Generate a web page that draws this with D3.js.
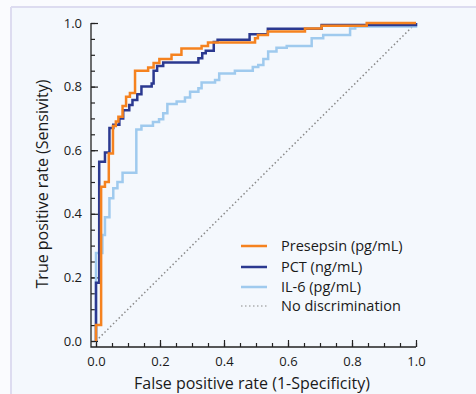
<!DOCTYPE html>
<html>
<head>
<meta charset="utf-8">
<script src="https://cdn.jsdelivr.net/npm/d3@7"></script>
<style>
  html, body { margin: 0; padding: 0; background: #fafbfe; }
  svg { display: block; }
  text { font-family: "Open Sans", "Noto Sans", sans-serif; fill: #1a1a1a; }
</style>
</head>
<body>
<svg id="chart" width="476" height="394"></svg>
<script>
// ROC operating points [false positive rate, true positive rate]; each point is
// the top of a vertical step, joined with a step-after curve.
const presepsin = [
  [0, 0], [0, 0.05], [0.016, 0.485], [0.028, 0.50], [0.04, 0.59], [0.053, 0.676],
  [0.062, 0.69], [0.07, 0.705], [0.083, 0.739], [0.094, 0.768], [0.106, 0.78],
  [0.122, 0.85], [0.163, 0.86], [0.18, 0.874], [0.198, 0.887], [0.236, 0.90],
  [0.267, 0.92], [0.33, 0.928], [0.35, 0.939], [0.497, 0.952], [0.506, 0.962],
  [0.537, 0.973], [0.653, 0.983], [0.705, 0.991], [0.846, 1.0], [1.0, 1.0]
];
const pct = [
  [0, 0], [0, 0.183], [0.01, 0.564], [0.028, 0.593], [0.042, 0.67], [0.054, 0.68],
  [0.073, 0.70], [0.085, 0.726], [0.104, 0.742], [0.114, 0.758], [0.129, 0.776],
  [0.142, 0.80], [0.174, 0.81], [0.18, 0.85], [0.191, 0.865], [0.21, 0.876],
  [0.32, 0.889], [0.332, 0.905], [0.343, 0.913], [0.368, 0.94], [0.38, 0.947],
  [0.48, 0.965], [0.537, 0.982], [0.705, 0.994], [1.0, 1.0]
];
const il6 = [
  [0, 0], [0, 0.277], [0.02, 0.333], [0.028, 0.389], [0.042, 0.449], [0.054, 0.48],
  [0.067, 0.50], [0.083, 0.529], [0.126, 0.665], [0.142, 0.677], [0.178, 0.689],
  [0.197, 0.697], [0.21, 0.716], [0.223, 0.745], [0.252, 0.753], [0.278, 0.766],
  [0.294, 0.784], [0.32, 0.795], [0.33, 0.813], [0.372, 0.821], [0.385, 0.841],
  [0.434, 0.85], [0.49, 0.862], [0.507, 0.868], [0.523, 0.887], [0.538, 0.91],
  [0.564, 0.922], [0.596, 0.928], [0.674, 0.952], [0.71, 0.962], [0.794, 0.983],
  [0.81, 0.989], [1.0, 1.0]
];
const chance = [[0, 0], [1, 1]];

const seriesNames = ["Presepsin (pg/mL)", "PCT (ng/mL)", "IL-6 (pg/mL)", "No discrimination"];
const majorTicks = [0, 0.2, 0.4, 0.6, 0.8, 1.0];
const minorTicks = d3.range(0, 1.0001, 0.05).map(v => +v.toFixed(2));

const colors = { presepsin: "#f5821f", pct: "#2b3990", il6: "#9fcaee", chance: "#8a8a8a" };

const svg = d3.select("#chart");

// page frame: light panel with a thin lavender rule on top and left
svg.append("rect").attr("x", 0).attr("y", 0).attr("width", 476).attr("height", 394).attr("fill", "#fafbfe");
svg.append("rect").attr("x", 11).attr("y", 7).attr("width", 465).attr("height", 387).attr("fill", "#f4f8fd");
svg.append("line").attr("x1", 11).attr("x2", 476).attr("y1", 7).attr("y2", 7)
  .attr("stroke", "#dddcf0").attr("stroke-width", 2);
svg.append("line").attr("x1", 11).attr("x2", 11).attr("y1", 7).attr("y2", 394)
  .attr("stroke", "#dddcf0").attr("stroke-width", 2);

const x = d3.scaleLinear().domain([0, 1]).range([96, 416]);
const y = d3.scaleLinear().domain([0, 1]).range([341, 23]);

const axisX = 91;      // y-axis line position
const axisY = 347;     // x-axis line position
const axisColor = "#222";

// y axis: minor and major ticks pointing inward
const gy = svg.append("g").attr("transform", `translate(${axisX},0)`);
gy.call(d3.axisLeft(y).tickValues(minorTicks).tickSize(-4).tickFormat(""));
gy.append("g").call(d3.axisLeft(y).tickValues(majorTicks).tickSize(-7).tickPadding(9)
  .tickFormat(d3.format(".1f")));
gy.selectAll(".domain").remove();
gy.selectAll("line").attr("stroke", axisColor).attr("stroke-width", 1.2);
gy.selectAll("text").attr("font-size", 13).attr("fill", "#1a1a1a");

// x axis: minor and major ticks pointing inward
const gx = svg.append("g").attr("transform", `translate(0,${axisY})`);
gx.call(d3.axisBottom(x).tickValues(minorTicks).tickSize(-4).tickFormat(""));
gx.append("g").call(d3.axisBottom(x).tickValues(majorTicks).tickSize(-7).tickPadding(10)
  .tickFormat(d3.format(".1f")));
gx.selectAll(".domain").remove();
gx.selectAll("line").attr("stroke", axisColor).attr("stroke-width", 1.2);
gx.selectAll("text").attr("font-size", 13).attr("fill", "#1a1a1a");

// axis lines meeting at the lower-left corner
svg.append("path")
  .attr("d", `M${axisX},${y(1)}V${axisY}H${x(1)}`)
  .attr("fill", "none").attr("stroke", axisColor).attr("stroke-width", 1.3);

// axis titles
svg.append("text")
  .attr("x", 252).attr("y", 389).attr("text-anchor", "middle").attr("font-size", 16)
  .text("False positive rate (1-Specificity)");
svg.append("text")
  .attr("transform", `translate(48,184) rotate(-90)`)
  .attr("text-anchor", "middle").attr("font-size", 16)
  .text("True positive rate (Sensivity)");

// reference diagonal
const straight = d3.line().x(d => x(d[0])).y(d => y(d[1]));
svg.append("path").datum(chance).attr("d", straight)
  .attr("fill", "none").attr("stroke", colors.chance).attr("stroke-width", 1.5)
  .attr("stroke-dasharray", "1.5,2.5");

// ROC staircases
const step = d3.line().x(d => x(d[0])).y(d => y(d[1])).curve(d3.curveStepAfter);
[[il6, colors.il6], [pct, colors.pct], [presepsin, colors.presepsin]].forEach(([data, c]) => {
  svg.append("path").datum(data).attr("d", step)
    .attr("fill", "none").attr("stroke", c).attr("stroke-width", 2.5)
    .attr("stroke-linejoin", "miter");
});

// legend
const legendColors = [colors.presepsin, colors.pct, colors.il6, colors.chance];
const legendRows = [246, 267, 287, 306];
const lg = svg.append("g");
seriesNames.forEach((name, i) => {
  const row = lg.append("g").attr("transform", `translate(0,${legendRows[i]})`);
  const ln = row.append("line").attr("x1", 241).attr("x2", 267).attr("y1", 0).attr("y2", 0)
    .attr("stroke", legendColors[i]);
  if (i === 3) ln.attr("stroke-width", 1.2).attr("stroke-dasharray", "1.5,2.5");
  else ln.attr("stroke-width", 2.5);
  row.append("text").attr("x", 281).attr("y", 0).attr("dy", "0.35em")
    .attr("font-size", 14.5).text(name);
});
</script>
</body>
</html>
